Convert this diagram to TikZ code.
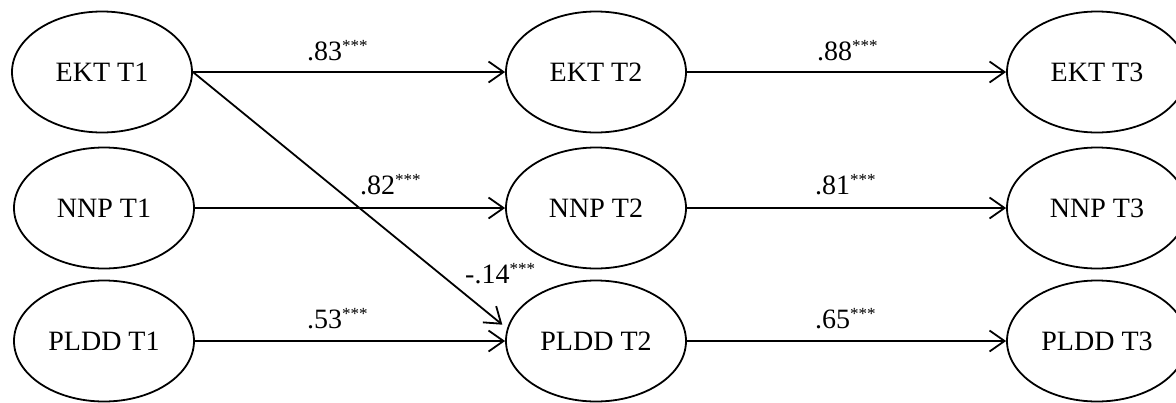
\documentclass[tikz,border=0pt]{standalone}
\usepackage{fontspec}
\setmainfont{Liberation Serif}
\usetikzlibrary{shapes.geometric,arrows.meta}
\newcommand\sigstars{\raisebox{9pt}{\fontsize{17}{17}\selectfont ***}}
\begin{document}
\begin{tikzpicture}[x=1pt,y=-1pt,
  lat/.style={ellipse, draw, line width=1.8pt, minimum width=180pt, minimum height=121pt, inner sep=0pt, font=\fontsize{28}{30}\selectfont},
  coef/.style={anchor=base west, inner sep=0pt, font=\fontsize{28}{30}\selectfont},
  arr/.style={line width=1.8pt, -{Straight Barb[length=15pt,width=21pt]}}]
\useasboundingbox (0,0) rectangle (1176,402);
\node[lat] (ekt1) at (102,72) {EKT T1};
\node[lat] (ekt2) at (596,72) {EKT T2};
\node[lat] (ekt3) at (1097,72) {EKT T3};
\node[lat] (nnp1) at (104,208) {NNP T1};
\node[lat] (nnp2) at (596,208) {NNP T2};
\node[lat] (nnp3) at (1097,208) {NNP T3};
\node[lat] (pldd1) at (104,341) {PLDD T1};
\node[lat] (pldd2) at (596,341) {PLDD T2};
\node[lat] (pldd3) at (1097,341) {PLDD T3};
\draw[arr] (ekt1.east) -- (ekt2.west);
\draw[arr] (ekt2.east) -- (ekt3.west);
\draw[arr] (nnp1.east) -- (nnp2.west);
\draw[arr] (nnp2.east) -- (nnp3.west);
\draw[arr] (pldd1.east) -- (pldd2.west);
\draw[arr] (pldd2.east) -- (pldd3.west);
\draw[arr, shorten >=6pt] (ekt1.east) -- (pldd2.172);
\node[coef] (l83) at (307,60) {.83\sigstars};
\node[coef] (l88) at (817,60) {.88\sigstars};
\node[coef] (l82) at (360,194) {.82\sigstars};
\node[coef] (l81) at (815,194) {.81\sigstars};
\node[coef] (l14) at (465,283) {-.14\sigstars};
\node[coef] (l53) at (307,328) {.53\sigstars};
\node[coef] (l65) at (815,328) {.65\sigstars};
\end{tikzpicture}
\end{document}
